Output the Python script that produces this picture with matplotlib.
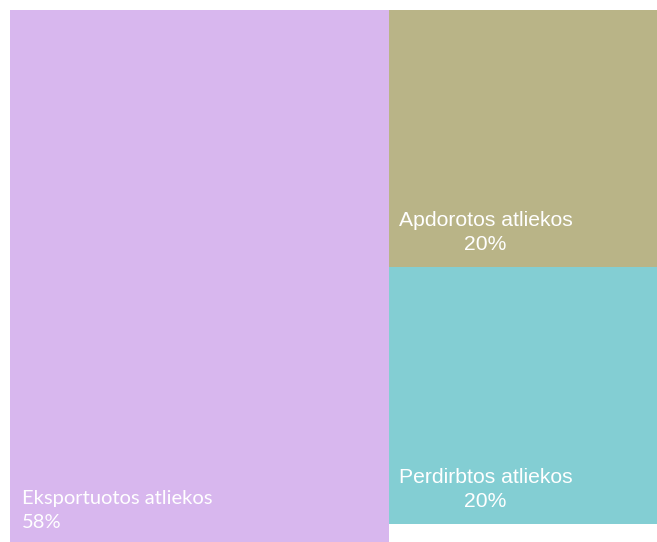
import matplotlib.pyplot as plt
import matplotlib.patheffects as pe

# treemap data (percent); the last 2% share is the unlabeled blank piece
labels = ["Eksportuotos atliekos", "Apdorotos atliekos", "Perdirbtos atliekos", ""]
values = [58, 20, 20, 2]
colors = ["#D8B7EE", "#B9B487", "#83CED3", "#FFFFFF"]
fonts = ["Lato", "Liberation Sans", "Liberation Sans", "Liberation Sans"]


def layout(vals, w=100.0, h=100.0):
    """First item takes a full-height column, the rest stack in the remaining column."""
    total = sum(vals)
    w0 = w * vals[0] / total
    rects = [(0.0, 0.0, w0, h)]
    rest = sum(vals[1:])
    top = h
    for v in vals[1:]:
        rh = h * v / rest
        rects.append((w0, top - rh, w - w0, rh))
        top -= rh
    return rects


fig = plt.figure(figsize=(6.57, 5.42), dpi=100)
fig.patch.set_facecolor("white")
# chart is slightly cropped at the right and bottom edges
ax = fig.add_axes([10 / 657, -8 / 542, 653 / 657, 540 / 542])
ax.set_xlim(0, 100)
ax.set_ylim(0, 100)
ax.axis("off")

shadow = [pe.SimplePatchShadow(offset=(1.5, -1.5), shadow_rgbFace="#555555", alpha=0.35), pe.Normal()]

for i, (x, y, w, h) in enumerate(layout(values)):
    rect = plt.Rectangle((x, y), w, h, facecolor=colors[i], edgecolor="none", zorder=2 + i)
    if labels[i]:
        rect.set_path_effects(shadow)
    ax.add_patch(rect)
    if not labels[i]:
        continue
    txt = f"{labels[i]}\n{values[i]}%"
    if i == 0:
        ax.annotate(txt, xy=(x, y), xytext=(12, 19), textcoords="offset pixels",
                    ha="left", va="bottom", multialignment="left", color="white",
                    fontsize=14.5, family=fonts[i], linespacing=1.5, zorder=10)
    else:
        ax.annotate(txt, xy=(x, y), xytext=(10, 13), textcoords="offset pixels",
                    ha="left", va="bottom", multialignment="center", color="white",
                    fontsize=15.2, family=fonts[i], linespacing=1.33, zorder=10)

fig.savefig("out.png", dpi=100)
